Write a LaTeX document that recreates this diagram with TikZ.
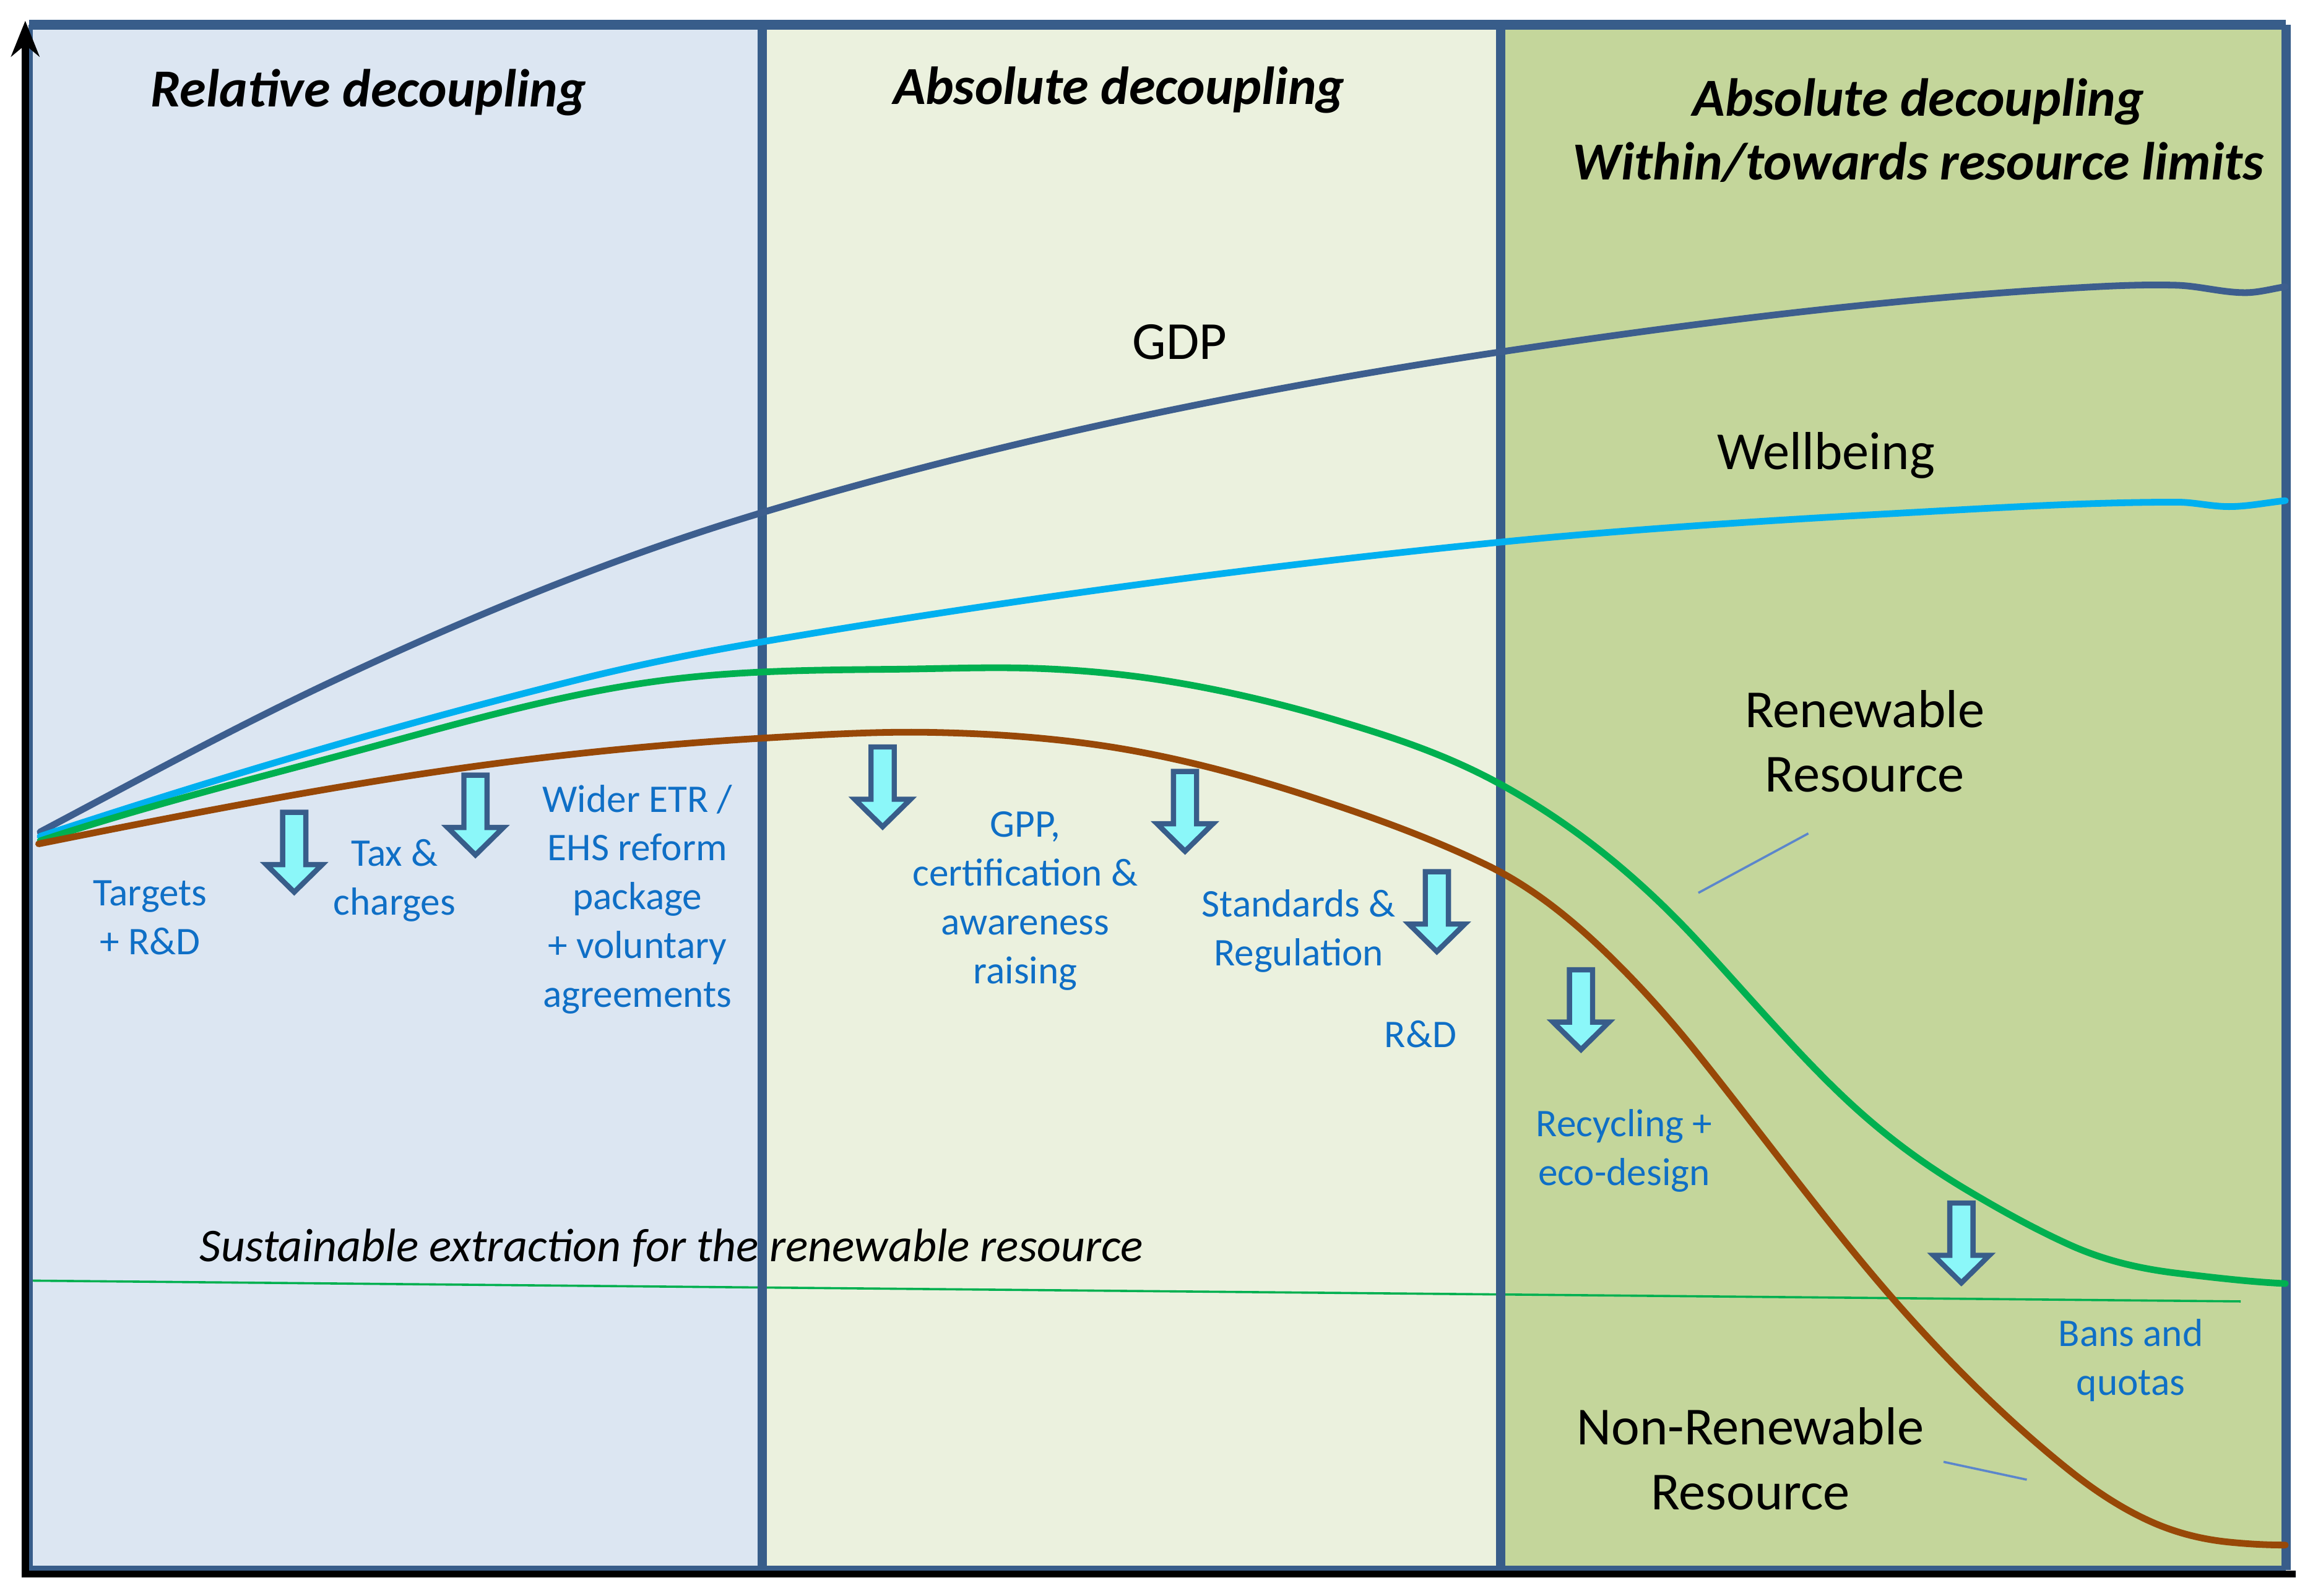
\documentclass[tikz,border=0pt]{standalone}
\usepackage{fontspec}
\setmainfont{Carlito}
\usetikzlibrary{arrows.meta}
\definecolor{frameblue}{HTML}{385D8A}
\definecolor{panelA}{HTML}{DCE6F2}
\definecolor{panelB}{HTML}{EBF1DE}
\definecolor{panelC}{HTML}{C4D69B}
\definecolor{gdpcol}{HTML}{3D5E8E}
\definecolor{wellcol}{HTML}{00B0F0}
\definecolor{rencol}{HTML}{00B050}
\definecolor{nrencol}{HTML}{984807}
\definecolor{polblue}{HTML}{0F6FC6}
\definecolor{arrfill}{HTML}{8BF7F9}
\definecolor{leadcol}{HTML}{5B86CC}
\begin{document}
\begin{tikzpicture}[x=0.2mm,y=-0.2mm,
  titletext/.style={font=\fontsize{20.5}{24.4}\selectfont\bfseries\itshape, anchor=base, align=center, inner sep=0pt},
  lbltext/.style={font=\fontsize{20.5}{24.7}\selectfont, anchor=base, align=center, inner sep=0pt},
  poltext/.style={font=\fontsize{15}{18.7}\selectfont, text=polblue, anchor=base, align=center, inner sep=0pt},
  curveline/.style={line width=0.9mm, line cap=round, line join=round},
  frameline/.style={draw=frameblue, line width=1.3mm},
  leadline/.style={draw=leadcol, line width=0.3mm},
  arrowbox/.style={draw=frameblue, fill=arrfill, line width=0.7mm, line join=miter},
  downarr/.pic={
    \path[arrowbox] (-7.8,1.8) -- (7.8,1.8) -- (7.8,37) -- (18.8,37) -- (0,55.5)
      -- (-18.8,37) -- (-7.8,37) -- cycle;
  }
]
\useasboundingbox (0,0) rectangle (1560,1074);

% panels
\fill[panelA] (19,16.7) rectangle (513,1057);
\fill[panelB] (513,16.7) rectangle (1010,1057);
\fill[panelC] (1010,16.7) rectangle (1538.5,1057);

% sustainable extraction line and text
\coordinate (susA) at (19,862);
\coordinate (susB) at (1508,876);
\draw[draw=rencol, line width=0.3mm] (susA) -- (susB);
\node[font=\fontsize{18}{22}\selectfont\itshape, anchor=base, inner sep=0pt] (sus) at (452,849)
  {Sustainable extraction for the renewable resource};

% frame
\draw[frameline] (19.5,16.7) -- (1538.5,16.7);
\draw[frameline] (1538.5,16.7) -- (1538.5,1057);
\draw[draw=frameblue, line width=0.8mm] (19.5,1056) -- (1538.5,1056);
\draw[frameline] (513,16.7) -- (513,1057);
\draw[frameline] (1010,16.7) -- (1010,1057);
\draw[draw=frameblue, line width=0.6mm] (20.5,16.7) -- (20.5,1057);

% axes
\draw[line width=1mm, -{Stealth[length=4.8mm, width=3.8mm]}] (17,1062) -- (17,14);
\draw[line width=0.9mm] (14.5,1059.6) -- (1545,1059.6);

% GDP
\draw[curveline, draw=gdpcol] (27,560)
  .. controls +(66,-35) and +(-66,31) .. (225,458)
  .. controls +(96,-45.1) and +(-96,28.8) .. (513,345)
  .. controls +(165.3,-49.6) and +(-165.3,24.8) .. (1009,237)
  .. controls +(128,-19.2) and +(-128,7.7) .. (1393,194)
  .. controls +(24,-1.4) and +(-24,-0.7) .. (1465,192)
  .. controls +(15.3,0.5) and +(-15.3,0) .. (1511,197)
  .. controls +(9,0) and +(-9,1.4) .. (1538,193);
% Wellbeing
\draw[curveline, draw=wellcol] (27,563)
  .. controls +(120,-39.6) and +(-120,30) .. (387,458)
  .. controls +(42,-10.5) and +(-42,7.1) .. (513,432)
  .. controls +(165.3,-28.1) and +(-165.3,16.5) .. (1009,365)
  .. controls +(92.3,-9.2) and +(-92.3,5.1) .. (1286,345)
  .. controls +(59.7,-3.3) and +(-59.7,0) .. (1465,338)
  .. controls +(11.7,0) and +(-11.7,0) .. (1500,341)
  .. controls +(12.7,0) and +(-12.7,1.3) .. (1538,337);
% Renewable resource
\draw[curveline, draw=rencol] (27,566)
  .. controls +(71.7,-23.7) and +(-71.7,19.4) .. (242,505)
  .. controls +(68,-18.4) and +(-68,8.8) .. (446,458)
  .. controls +(51.3,-6.7) and +(-51.3,0.5) .. (600,450.5)
  .. controls +(33.3,-0.3) and +(-33.3,-1.3) .. (700,450)
  .. controls +(27.7,1.1) and +(-27.7,-4.4) .. (783,458)
  .. controls +(39,6.2) and +(-39,-11.7) .. (900,485)
  .. controls +(36.7,11) and +(-36.7,-20.2) .. (1010,528)
  .. controls +(44.3,24.4) and +(-44.3,-47.9) .. (1143,634)
  .. controls +(35.7,38.5) and +(-35.7,-32.1) .. (1250,747)
  .. controls +(24,21.6) and +(-24,-14.4) .. (1322,800)
  .. controls +(23.7,14.2) and +(-23.7,-10.7) .. (1393,838)
  .. controls +(24,10.8) and +(-24,-2.9) .. (1465,857)
  .. controls +(24.3,2.9) and +(-24.3,-1.2) .. (1538,864);
% Non-renewable resource
\draw[curveline, draw=nrencol] (26,568)
  .. controls +(95,-19) and +(-95,13.3) .. (311,517)
  .. controls +(66.7,-9.3) and +(-66.7,4) .. (511,497)
  .. controls +(39,-2.3) and +(-39,-0.8) .. (628,493)
  .. controls +(40.3,0.8) and +(-40.3,-6.4) .. (749,503)
  .. controls +(46,7.4) and +(-46,-15.2) .. (887,538)
  .. controls +(37.7,12.4) and +(-37.7,-18.1) .. (1000,582)
  .. controls +(23.7,11.4) and +(-23.7,-21.8) .. (1071,632)
  .. controls +(24,22.1) and +(-24,-30) .. (1143,710)
  .. controls +(43,53.8) and +(-43,-49.5) .. (1272,872)
  .. controls +(40.3,46.3) and +(-40.3,-32.2) .. (1393,990)
  .. controls +(18,14.4) and +(-18,-8.1) .. (1447,1024)
  .. controls +(17.7,8) and +(-17.7,-1.8) .. (1500,1038)
  .. controls +(12.7,1.3) and +(-12.7,0) .. (1538,1040);

% policy arrows
\pic at (198,545) {downarr};
\pic at (320,520) {downarr};
\pic at (594,501) {downarr};
\pic at (797.5,517.5) {downarr};
\pic at (967,585) {downarr};
\pic at (1064,651) {downarr};
\pic at (1320,808) {downarr};

% titles (base = baseline of the last line)
\node[titletext] (t1) at (248,72) {Relative decoupling};
\node[titletext] (t2) at (753,70) {Absolute decoupling};
\node[titletext] (t3) at (1291,121) {Absolute decoupling\\Within/towards resource limits};

% curve labels
\node[lbltext] (gdp) at (794,242) {GDP};
\node[lbltext] (wb) at (1229,316) {Wellbeing};
\node[lbltext] (ren) at (1255,533) {Renewable\\Resource};
\node[lbltext] (nren) at (1178,1016) {Non-Renewable\\Resource};

% leader lines
\coordinate (renA) at (1217,561);
\coordinate (renB) at (1143,601);
\draw[leadline] (renA) -- (renB);
\coordinate (nrenA) at (1308,984);
\coordinate (nrenB) at (1364,996);
\draw[leadline] (nrenA) -- (nrenB);

% policy labels
\node[poltext] (tgt) at (101,642.5) {Targets\\+ R\&D};
\node[poltext] (tax) at (265.5,616) {Tax \&\\charges};
\node[poltext] (etr) at (429,678) {Wider ETR /\\EHS reform\\package\\+ voluntary\\agreements};
\node[poltext] (gpp) at (690,662) {GPP,\\certification \&\\awareness\\raising};
\node[poltext] (std) at (874,650) {Standards \&\\Regulation};
\node[poltext] (rd) at (956,705) {R\&D};
\node[poltext] (rec) at (1093,798) {Recycling +\\eco-design};
\node[poltext] (ban) at (1434,939) {Bans and\\quotas};
\end{tikzpicture}
\end{document}
